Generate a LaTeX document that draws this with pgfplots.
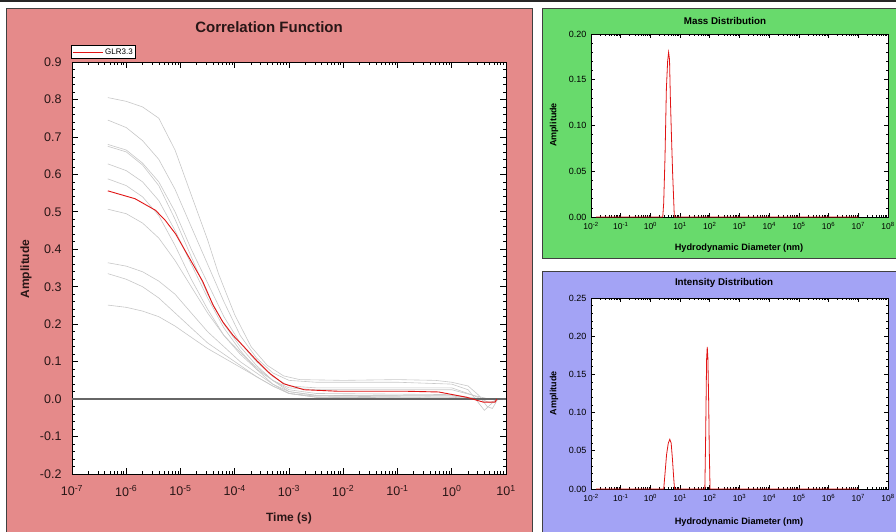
\documentclass[border=0pt]{standalone}
\usepackage{pgfplots}
\pgfplotsset{compat=1.18}
\usepackage{fontspec}
\setmainfont{Liberation Sans}
\definecolor{pinkbg}{RGB}{229,138,138}
\definecolor{greenbg}{RGB}{104,218,108}
\definecolor{bluebg}{RGB}{163,163,245}
\definecolor{curvegray}{RGB}{200,200,200}
\definecolor{lbl}{RGB}{40,22,22}
\definecolor{dlsred}{RGB}{225,20,20}
\pgfplotsset{
  dls/.style={
    scale only axis, anchor=south west,
    axis background/.style={fill=white},
    axis line style={line width=0.8pt},
    every tick/.style={black, line width=0.7pt},
    tick align=inside,
    /pgf/number format/assume math mode=true,
    yticklabel style={/pgf/number format/fixed, /pgf/number format/fixed zerofill},
  }
}
\begin{document}
\begin{tikzpicture}[x=1pt,y=1pt]
\path[use as bounding box] (0,0) rectangle (896,531);
\fill[black!85] (0,529) rectangle (896,532);
\filldraw[fill=pinkbg, draw=black!75, line width=0.8pt] (6.5,-2) rectangle (532,522.5);
\filldraw[fill=greenbg, draw=black!75, line width=0.8pt] (542.5,273) rectangle (900,522.5);
\filldraw[fill=bluebg, draw=black!75, line width=0.8pt] (542.5,-2) rectangle (900,260);

% ---------------- Correlation function ----------------
\begin{axis}[xmode=log, dls, at={(72pt,57pt)}, width=434pt, height=412pt,
  xmin=1e-7, xmax=10, ymin=-0.2, ymax=0.9,
  ytick={-0.2,-0.1,0,0.1,0.2,0.3,0.4,0.5,0.6,0.7,0.8,0.9},
  minor y tick num=4,
  major tick length=6pt, minor tick length=3pt,
  yticklabel style={/pgf/number format/precision=1, font=\fontsize{12.5}{14}\selectfont, text=lbl, xshift=-7pt},
  xtick={1e-7,1e-6,1e-5,1e-4,1e-3,1e-2,1e-1,1,10},
  xticklabels={10\textsuperscript{-7},10\textsuperscript{-6},10\textsuperscript{-5},10\textsuperscript{-4},10\textsuperscript{-3},10\textsuperscript{-2},10\textsuperscript{-1},10\textsuperscript{0},10\textsuperscript{1}},
  xticklabel style={font=\fontsize{12.5}{14}\selectfont, text=lbl, yshift=-8pt},
  legend style={at={(0,1)}, anchor=south west, yshift=3pt, xshift=-1pt,
    font=\fontsize{8}{9}\selectfont, draw=black, line width=0.6pt, fill=white,
    inner sep=1pt, row sep=0pt},
  legend image code/.code={\draw[#1] (0pt,0pt) -- (30pt,0pt);},
]
\addplot[curvegray, line width=0.6pt, forget plot] coordinates {(4.57e-7,0.805) (1e-6,0.795) (2e-6,0.78) (3.98e-6,0.75) (7.94e-6,0.665) (1.58e-5,0.545) (3.16e-5,0.425) (5.01e-5,0.335) (1e-4,0.225) (2e-4,0.14) (3.98e-4,0.09) (7.94e-4,0.062) (1.58e-3,0.052) (1e-2,0.05) (0.1,0.052) (0.5,0.05) (1,0.045) (2,0.035) (3.16,0.01) (4.5,-0.02) (5.6,-0.025) (7.1,0.0)};
\addplot[curvegray, line width=0.6pt, forget plot] coordinates {(4.57e-7,0.745) (1e-6,0.725) (2e-6,0.69) (3.98e-6,0.64) (7.94e-6,0.56) (1.58e-5,0.46) (3.16e-5,0.36) (6.31e-5,0.26) (1.26e-4,0.17) (2.51e-4,0.11) (5.01e-4,0.07) (1e-3,0.05) (3.16e-3,0.045) (0.1,0.045) (1,0.04) (2,0.025) (4,-0.03) (5.6,-0.01) (7.1,0.0)};
\addplot[curvegray, line width=0.6pt, forget plot] coordinates {(4.57e-7,0.68) (1e-6,0.665) (2e-6,0.63) (3.98e-6,0.58) (7.94e-6,0.50) (1.58e-5,0.40) (3.16e-5,0.31) (6.31e-5,0.22) (1.26e-4,0.15) (2.51e-4,0.10) (5.01e-4,0.06) (1e-3,0.035) (3.16e-3,0.03) (1,0.03) (2.5,0.01) (5,-0.01) (7.1,0.0)};
\addplot[curvegray, line width=0.6pt, forget plot] coordinates {(4.57e-7,0.675) (1e-6,0.66) (2e-6,0.625) (3.98e-6,0.57) (7.94e-6,0.48) (1.58e-5,0.38) (3.16e-5,0.28) (6.31e-5,0.20) (1.26e-4,0.14) (2.51e-4,0.09) (5.01e-4,0.05) (1e-3,0.02) (3.16e-3,0.01) (1,0.01) (3.16,0.0) (7.1,0.0)};
\addplot[curvegray, line width=0.6pt, forget plot] coordinates {(4.57e-7,0.628) (1e-6,0.61) (2e-6,0.58) (3.98e-6,0.53) (7.94e-6,0.45) (1.58e-5,0.36) (3.16e-5,0.27) (6.31e-5,0.19) (1.26e-4,0.13) (2.51e-4,0.08) (5.01e-4,0.04) (1e-3,0.015) (3.16e-3,0.008) (1,0.005) (3.16,0.0) (7.1,0.0)};
\addplot[curvegray, line width=0.6pt, forget plot] coordinates {(4.57e-7,0.588) (1e-6,0.57) (2e-6,0.54) (3.98e-6,0.49) (7.94e-6,0.41) (1.58e-5,0.32) (3.16e-5,0.24) (6.31e-5,0.17) (1.26e-4,0.12) (2.51e-4,0.08) (5.01e-4,0.05) (1e-3,0.03) (3.16e-3,0.025) (1,0.025) (2.5,0.01) (5,0.0) (7.1,0.0)};
\addplot[curvegray, line width=0.6pt, forget plot] coordinates {(4.57e-7,0.507) (1e-6,0.495) (2e-6,0.47) (3.98e-6,0.43) (7.94e-6,0.37) (1.58e-5,0.30) (3.16e-5,0.23) (6.31e-5,0.17) (1.26e-4,0.125) (2.51e-4,0.085) (5.01e-4,0.05) (1e-3,0.025) (3.16e-3,0.015) (1,0.012) (3.16,0.0) (7.1,0.0)};
\addplot[curvegray, line width=0.6pt, forget plot] coordinates {(4.57e-7,0.364) (1e-6,0.355) (2e-6,0.34) (3.98e-6,0.315) (7.94e-6,0.28) (1.58e-5,0.23) (3.16e-5,0.18) (6.31e-5,0.14) (1.26e-4,0.10) (2.51e-4,0.07) (5.01e-4,0.04) (1e-3,0.02) (3.16e-3,0.01) (1,0.008) (4,0.0) (7.1,0.0)};
\addplot[curvegray, line width=0.6pt, forget plot] coordinates {(4.57e-7,0.335) (1e-6,0.32) (2e-6,0.30) (3.98e-6,0.27) (7.94e-6,0.23) (1.58e-5,0.19) (3.16e-5,0.15) (6.31e-5,0.12) (1.26e-4,0.09) (2.51e-4,0.06) (5.01e-4,0.035) (1e-3,0.015) (3.16e-3,0.005) (1,0.003) (4,0.0) (7.1,0.0)};
\addplot[curvegray, line width=0.6pt, forget plot] coordinates {(4.57e-7,0.251) (1e-6,0.245) (2e-6,0.235) (3.98e-6,0.22) (7.94e-6,0.195) (1.58e-5,0.165) (3.16e-5,0.135) (6.31e-5,0.11) (1.26e-4,0.085) (2.51e-4,0.06) (5.01e-4,0.035) (1e-3,0.015) (3.16e-3,0.005) (1,0.0) (7.1,0.0)};
\addplot[black!60, line width=1.2pt, forget plot] coordinates {(1e-7,0) (10,0)};
\addplot[dlsred, line width=0.9pt] coordinates {(4.57e-7,0.556) (1.45e-6,0.535) (3.47e-6,0.504) (5.25e-6,0.477) (8.13e-6,0.441) (1.45e-5,0.377) (2.57e-5,0.314) (3.98e-5,0.251) (6.03e-5,0.206) (9.33e-5,0.170) (1.41e-4,0.143) (2.57e-4,0.102) (4.47e-4,0.068) (7.94e-4,0.041) (1.9e-3,0.025) (7.94e-3,0.021) (0.138,0.021) (0.575,0.019) (1.86,0.005) (3.8,-0.008) (6.3,-0.008) (6.76,0.0)};
\addlegendentry{GLR3.3}
\end{axis}
\node[font=\bfseries\fontsize{15}{17}\selectfont, text=lbl] at (269,504) {Correlation Function};
\node[font=\bfseries\fontsize{12}{14}\selectfont, text=lbl, rotate=90] at (26,262) {Amplitude};
\node[font=\bfseries\fontsize{12}{14}\selectfont, text=lbl] at (289,13) {Time (s)};

% ---------------- Mass distribution ----------------
\begin{axis}[xmode=log, dls, at={(591pt,314pt)}, width=297pt, height=183pt,
  xmin=1e-2, xmax=1e8, ymin=0, ymax=0.2,
  ytick={0,0.05,0.10,0.15,0.20}, minor y tick num=4,
  major tick length=4pt, minor tick length=2pt,
  yticklabel style={/pgf/number format/precision=2, font=\fontsize{9}{10}\selectfont, xshift=-1pt},
  xtick={1e-2,1e-1,1,1e1,1e2,1e3,1e4,1e5,1e6,1e7,1e8},
  xticklabels={10\textsuperscript{-2},10\textsuperscript{-1},10\textsuperscript{0},10\textsuperscript{1},10\textsuperscript{2},10\textsuperscript{3},10\textsuperscript{4},10\textsuperscript{5},10\textsuperscript{6},10\textsuperscript{7},10\textsuperscript{8}},
  xticklabel style={font=\fontsize{8.5}{9}\selectfont, yshift=-2pt},
]
\addplot[dlsred, line width=0.8pt] coordinates {(0.015,0) (2.6,0) (2.8,0.015) (3.1,0.065) (3.45,0.14) (3.8,0.17) (4.1,0.18) (4.4,0.172) (4.7,0.13) (5.1,0.09) (5.6,0.048) (6.4,0) (1e7,0)};
\end{axis}
\node[font=\bfseries\fontsize{9.8}{11}\selectfont] at (725,510) {Mass Distribution};
\node[font=\bfseries\fontsize{9}{10}\selectfont, rotate=90] at (554,406) {Amplitude};
\node[font=\bfseries\fontsize{9.2}{10}\selectfont] at (739,283) {Hydrodynamic Diameter (nm)};

% ---------------- Intensity distribution ----------------
\begin{axis}[xmode=log, dls, at={(591pt,42pt)}, width=297pt, height=191pt,
  xmin=1e-2, xmax=1e8, ymin=0, ymax=0.25,
  ytick={0,0.05,0.10,0.15,0.20,0.25}, minor y tick num=4,
  major tick length=4pt, minor tick length=2pt,
  yticklabel style={/pgf/number format/precision=2, font=\fontsize{9}{10}\selectfont, xshift=-1pt},
  xtick={1e-2,1e-1,1,1e1,1e2,1e3,1e4,1e5,1e6,1e7,1e8},
  xticklabels={10\textsuperscript{-2},10\textsuperscript{-1},10\textsuperscript{0},10\textsuperscript{1},10\textsuperscript{2},10\textsuperscript{3},10\textsuperscript{4},10\textsuperscript{5},10\textsuperscript{6},10\textsuperscript{7},10\textsuperscript{8}},
  xticklabel style={font=\fontsize{8.5}{9}\selectfont, yshift=-2pt},
]
\addplot[dlsred, line width=0.8pt] coordinates {(0.015,0) (2.8,0) (3.1,0.02) (3.5,0.045) (4.0,0.06) (4.5,0.065) (5.0,0.06) (5.5,0.04) (6.2,0.01) (6.5,0) (68,0) (72,0.06) (78,0.17) (82,0.186) (86,0.172) (92,0.11) (96,0.05) (102,0) (1e7,0)};
\end{axis}
\node[font=\bfseries\fontsize{9.8}{11}\selectfont] at (724,248) {Intensity Distribution};
\node[font=\bfseries\fontsize{9}{10}\selectfont, rotate=90] at (554,138) {Amplitude};
\node[font=\bfseries\fontsize{9.2}{10}\selectfont] at (739,9) {Hydrodynamic Diameter (nm)};
\end{tikzpicture}
\end{document}
